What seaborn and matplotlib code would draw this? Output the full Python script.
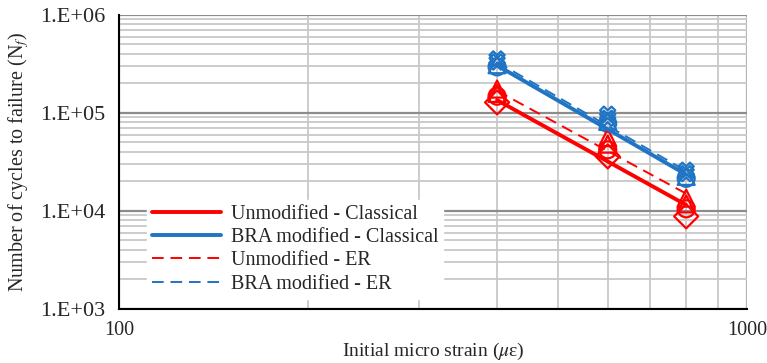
import numpy as np
import pandas as pd
import matplotlib
matplotlib.use("Agg")
import matplotlib.pyplot as plt
import seaborn as sns
from matplotlib.lines import Line2D
from matplotlib.ticker import FixedLocator, FuncFormatter, NullFormatter

# measured specimens (strain in micro strain, cycles to failure)
strain = [400, 400, 400, 400, 600, 600, 600, 600, 800, 800, 800, 800]
unmod_cycles = [175000, 158000, 148000, 128000, 56000, 48000, 42000, 36000, 13500, 11800, 10500, 8800]
unmod_marker = ["^", "^", "o", "D", "^", "^", "o", "D", "^", "^", "o", "D"]
bra_cycles = [355000, 330000, 310000, 295000, 97000, 88000, 82000, 78000, 26000, 24000, 22500, 21500]
bra_marker = ["X", "X", "^", "o", "X", "X", "^", "o", "X", "X", "^", "o"]

# fitted lines (end values)
fit_strain = [400, 800]
unmod_classical = [135000, 11500]
bra_classical = [305000, 23500]
unmod_er = [168000, 15000]
bra_er = [330000, 25500]

labels = ["Unmodified - Classical", "BRA modified - Classical", "Unmodified - ER", "BRA modified - ER"]

red = "#ff0000"
blue = "#1f74c4"

sns.set_style("white")
plt.rcParams["font.family"] = ["Liberation Serif", "DejaVu Serif"]
plt.rcParams["mathtext.fontset"] = "stix"

fig = plt.figure(figsize=(7.67, 3.63), dpi=100)
ax = fig.add_axes([0.155, 0.149, 0.819, 0.81])

pts = pd.DataFrame({
    "strain": strain * 2,
    "cycles": unmod_cycles + bra_cycles,
    "group": ["Unmodified"] * len(strain) + ["BRA"] * len(strain),
    "marker": unmod_marker + bra_marker,
})
for (grp, mk), sub in pts.groupby(["group", "marker"]):
    col = red if grp == "Unmodified" else blue
    sz = 120 if mk == "X" else 150
    sns.scatterplot(data=sub, x="strain", y="cycles", ax=ax, marker=mk, s=sz,
                    facecolor="none", edgecolor=col, linewidth=1.6, legend=False, zorder=3)

fits = pd.DataFrame({
    "strain": fit_strain * 4,
    "cycles": unmod_classical + bra_classical + unmod_er + bra_er,
    "fit": [labels[0]] * 2 + [labels[1]] * 2 + [labels[2]] * 2 + [labels[3]] * 2,
})
sns.lineplot(data=fits, x="strain", y="cycles", hue="fit", style="fit", hue_order=labels, style_order=labels,
             palette=[red, blue, red, blue], dashes=[(None, None), (None, None), (6, 3.5), (6, 3.5)],
             ax=ax, linewidth=2.8, zorder=4, legend=False)
for ln in ax.get_lines()[2:]:
    ln.set_linewidth(1.4)

ax.set_xscale("log")
ax.set_yscale("log")
ax.set_xlim(100, 1000)
ax.set_ylim(1e3, 1e6)

ax.yaxis.set_major_locator(FixedLocator([1e3, 1e4, 1e5, 1e6]))
ax.yaxis.set_major_formatter(FuncFormatter(lambda v, p: "1.E+%02d" % round(np.log10(v))))
ax.xaxis.set_major_locator(FixedLocator([100, 1000]))
ax.xaxis.set_major_formatter(FuncFormatter(lambda v, p: "%d" % v))
ax.yaxis.set_minor_formatter(NullFormatter())
ax.xaxis.set_minor_formatter(NullFormatter())

ax.grid(True, which="minor", color="#c8c8c8", linewidth=1.3)
ax.grid(True, which="major", axis="y", color="#8c8c8c", linewidth=1.6)
ax.grid(True, which="major", axis="x", color="#b4b4b4", linewidth=1.6)
ax.set_axisbelow(True)
for sp in ["top", "right"]:
    ax.spines[sp].set_visible(False)
for sp in ["left", "bottom"]:
    ax.spines[sp].set_color("black")
    ax.spines[sp].set_linewidth(1.5)
ax.tick_params(which="major", direction="inout", length=8, width=1.5, color="black")
ax.tick_params(axis="y", labelsize=16, pad=6)
ax.tick_params(axis="x", labelsize=14.5, pad=5)
ax.tick_params(which="minor", length=0)

ax.set_xlabel("Initial micro strain ($\\mu$\u03b5)", fontsize=14, labelpad=0)
ax.set_ylabel("Number of cycles to failure (N$_f$)", fontsize=14.5, labelpad=6)

handles = [
    Line2D([], [], color=red, lw=2.8),
    Line2D([], [], color=blue, lw=2.8),
    Line2D([], [], color=red, lw=1.4, dashes=(6, 3.5)),
    Line2D([], [], color=blue, lw=1.4, dashes=(6, 3.5)),
]
ax.legend(handles, labels, loc="lower left", bbox_to_anchor=(0.045, 0.035), frameon=True, facecolor="white",
          edgecolor="white", framealpha=1, fontsize=14.5, handlelength=3.4, handletextpad=0.5,
          borderpad=0.25, labelspacing=0.2, borderaxespad=0)

fig.savefig("out.png", dpi=100)
